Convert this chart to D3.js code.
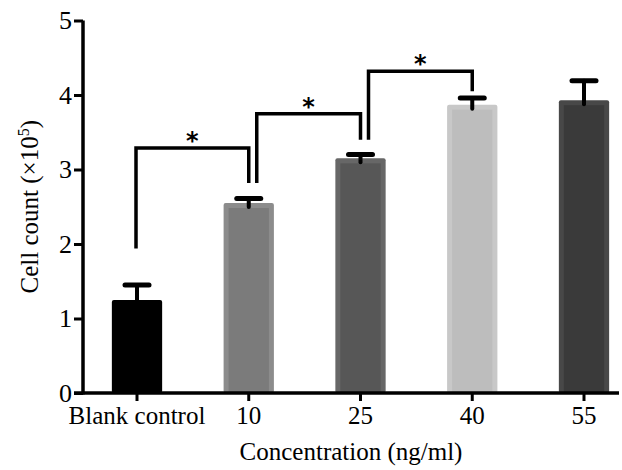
<!DOCTYPE html>
<html>
<head>
<meta charset="utf-8">
<script src="https://cdn.jsdelivr.net/npm/d3@7"></script>
<style>
  body { margin: 0; background: #fff; }
  svg text { font-family: "Liberation Serif", "Times New Roman", serif; fill: #000; }
</style>
</head>
<body>
<svg id="chart" width="622" height="470"></svg>
<script>
// data
var categories = ['Blank control', '10', '25', '40', '55'];
var means = [1.25, 2.55, 3.15, 3.87, 3.93];
var errors = [0.2, 0.06, 0.05, 0.09, 0.26];
var barFill = ['#000000', '#7b7b7b', '#575757', '#bdbdbd', '#3a3a3a'];
var barEdge = ['#000000', '#8c8c8c', '#676767', '#c8c8c8', '#484848'];
var yTicks = [0, 1, 2, 3, 4, 5];
// significance brackets: [from, to, top level, left leg end, right leg end]
var brackets = [
  ['Blank control', '10', 3.29, 1.94, 2.82],
  ['10', '25', 3.75, 2.82, 3.40],
  ['25', '40', 4.32, 3.40, 4.05]
];

var svg = d3.select('#chart');
var mLeft = 83, mRight = 619, mTop = 20.5, mBottom = 393;

var y = d3.scaleLinear().domain([0, 5]).range([mBottom, mTop]);
var step = 111.75;
var x = d3.scaleBand().domain(categories)
  .range([137 - step / 2, 137 - step / 2 + step * categories.length])
  .paddingInner(0.55).paddingOuter(0.275);

// bars
var bars = svg.append('g');
categories.forEach(function(c, i) {
  var x0 = x(c), w = x.bandwidth();
  bars.append('rect')
    .attr('x', x0).attr('y', y(means[i]))
    .attr('width', w).attr('height', y(0) - y(means[i]))
    .attr('rx', 2)
    .attr('fill', barEdge[i]);
  bars.append('rect')
    .attr('x', x0 + 5).attr('y', y(means[i]) + 5)
    .attr('width', w - 10).attr('height', y(0) - y(means[i]) - 5)
    .attr('fill', barFill[i]);
});

// error bars (upper only)
var eb = svg.append('g').attr('stroke', '#000').attr('stroke-linecap', 'round');
categories.forEach(function(c, i) {
  var cx = x(c) + x.bandwidth() / 2;
  eb.append('line')
    .attr('x1', cx).attr('x2', cx)
    .attr('y1', y(means[i]) + 4).attr('y2', y(means[i] + errors[i]))
    .attr('stroke-width', 4);
  eb.append('line')
    .attr('x1', cx - 12).attr('x2', cx + 12)
    .attr('y1', y(means[i] + errors[i])).attr('y2', y(means[i] + errors[i]))
    .attr('stroke-width', 5);
});

// brackets
var br = svg.append('g');
brackets.forEach(function(b, i) {
  var xa = x(b[0]) + x.bandwidth() / 2 - 1;
  if (i > 0) xa += 9;
  var xb = x(b[1]) + x.bandwidth() / 2;
  br.append('path')
    .attr('d', 'M' + xa + ',' + y(b[3]) + 'V' + y(b[2]) + 'H' + xb + 'V' + y(b[4]))
    .attr('fill', 'none').attr('stroke', '#000').attr('stroke-width', 3.5);
  br.append('text')
    .attr('x', (xa + xb) / 2).attr('y', y(b[2]) + 1)
    .attr('text-anchor', 'middle')
    .style('font-family', 'DejaVu Sans, sans-serif')
    .style('font-weight', 'bold')
    .style('font-size', '24px')
    .text('*');
});

// y axis
var yAxis = svg.append('g').attr('transform', 'translate(' + mLeft + ',0)')
  .call(d3.axisLeft(y).tickValues(yTicks).tickSize(9).tickPadding(2).tickFormat(d3.format('d')));
yAxis.select('.domain').attr('stroke-width', 3.5).attr('d', 'M0,' + mTop + 'V' + (mBottom + 1.5));
yAxis.selectAll('.tick line').attr('stroke-width', 3);
yAxis.selectAll('.tick text').style('font-size', '26px');

// x axis
var xAxis = svg.append('g').attr('transform', 'translate(0,' + mBottom + ')')
  .call(d3.axisBottom(x).tickSize(8).tickPadding(5));
xAxis.select('.domain').remove();
xAxis.append('line').attr('x1', mLeft - 9).attr('x2', mRight).attr('stroke', '#000').attr('stroke-width', 3.5);
xAxis.selectAll('.tick line').attr('stroke-width', 3);
xAxis.selectAll('.tick text').style('font-size', '25px');

// axis titles
svg.append('text')
  .attr('x', (mLeft + mRight) / 2).attr('y', 460)
  .attr('text-anchor', 'middle')
  .style('font-size', '25px')
  .text('Concentration (ng/ml)');

var yt = svg.append('text')
  .attr('transform', 'translate(38,' + ((mTop + mBottom) / 2) + ') rotate(-90)')
  .attr('text-anchor', 'middle')
  .style('font-size', '25px');
yt.append('tspan').text('Cell count (\u00d710');
yt.append('tspan').attr('dy', -9).style('font-size', '16px').text('5');
yt.append('tspan').attr('dy', 9).text(')');
</script>
</body>
</html>
